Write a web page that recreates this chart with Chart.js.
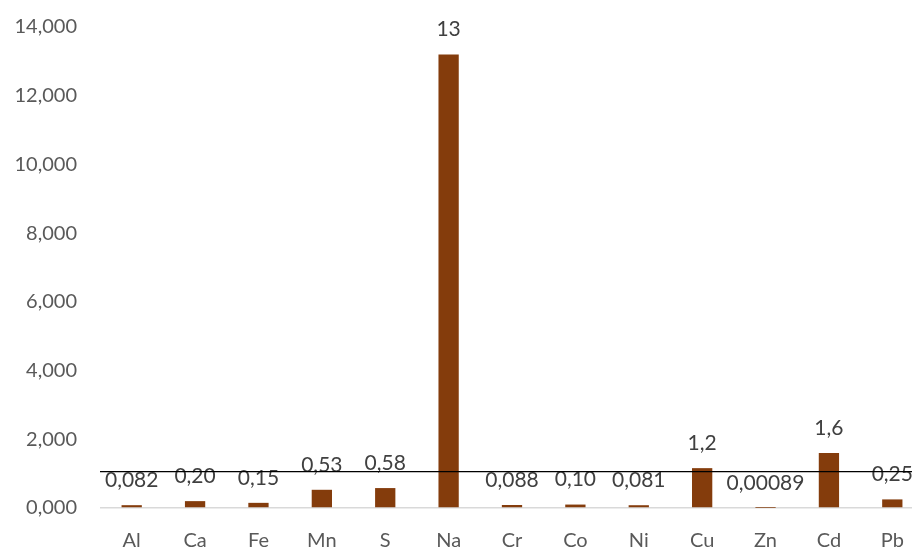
<!DOCTYPE html>
<html>
<head>
<meta charset="utf-8">
<script src="https://cdn.jsdelivr.net/npm/chart.js@4/dist/chart.umd.min.js"></script>
<style>
html,body{margin:0;padding:0;overflow:hidden;background:#fff;width:912px;height:549px;}
canvas{display:block;margin-top:-8px;}
</style>
</head>
<body>
<canvas id="c" width="940" height="557"></canvas>
<script>
const categories = ["Al","Ca","Fe","Mn","S","Na","Cr","Co","Ni","Cu","Zn","Cd","Pb"];
const values = [0.082, 0.20, 0.15, 0.53, 0.58, 13.2, 0.088, 0.10, 0.081, 1.16, 0.00089, 1.6, 0.25];
const yTicks = [0, 2, 4, 6, 8, 10, 12, 14];
const referenceLine = 1.06;

const fmt = v => Number(v).toPrecision(2).replace('.', ',');
const FONT = 'Lato, "Open Sans", sans-serif';

const labelPlugin = {
  id: 'labels',
  afterDatasetsDraw(chart) {
    const ctx = chart.ctx;
    const meta = chart.getDatasetMeta(0);
    ctx.save();
    ctx.font = '21px ' + FONT;
    ctx.fillStyle = '#404040';
    ctx.textAlign = 'center';
    ctx.textBaseline = 'middle';
    meta.data.forEach((bar, i) => {
      ctx.fillText(fmt(values[i]), bar.x, bar.y - 25);
    });
    const y = chart.scales.y.getPixelForValue(referenceLine);
    ctx.strokeStyle = '#000';
    ctx.lineWidth = 1.3;
    ctx.beginPath();
    ctx.moveTo(chart.chartArea.left, y);
    ctx.lineTo(chart.width, y);
    ctx.stroke();
    ctx.restore();
  }
};

new Chart(document.getElementById('c'), {
  type: 'bar',
  data: {
    labels: categories,
    datasets: [{
      data: values,
      backgroundColor: '#843C0C',
      borderWidth: 0,
      categoryPercentage: 1,
      barPercentage: 0.32
    }]
  },
  options: {
    responsive: false,
    animation: false,
    layout: { padding: { top: 17, right: 16, left: 0, bottom: 0 } },
    plugins: { legend: { display: false }, tooltip: { enabled: false } },
    scales: {
      x: {
        grid: { display: false, drawTicks: false },
        border: { display: false },
        ticks: { color: '#595959', font: { family: FONT, size: 20 }, padding: 21, maxRotation: 0, autoSkip: false },
        afterFit(s) { s.height = 41; }
      },
      y: {
        min: 0, max: 14,
        afterBuildTicks(s) { s.ticks = yTicks.map(v => ({ value: v })); },
        grid: {
          drawTicks: false,
          color: ctx => (ctx.tick && ctx.tick.value === 0) ? '#d9d9d9' : 'rgba(0,0,0,0)',
          lineWidth: 1.5
        },
        border: { display: false },
        ticks: {
          color: '#595959', font: { family: FONT, size: 20 }, padding: 23,
          callback: v => Number(v).toFixed(3).replace('.', ',')
        },
        afterFit(s) { s.width = 100; }
      }
    }
  },
  plugins: [labelPlugin]
});
</script>
</body>
</html>
